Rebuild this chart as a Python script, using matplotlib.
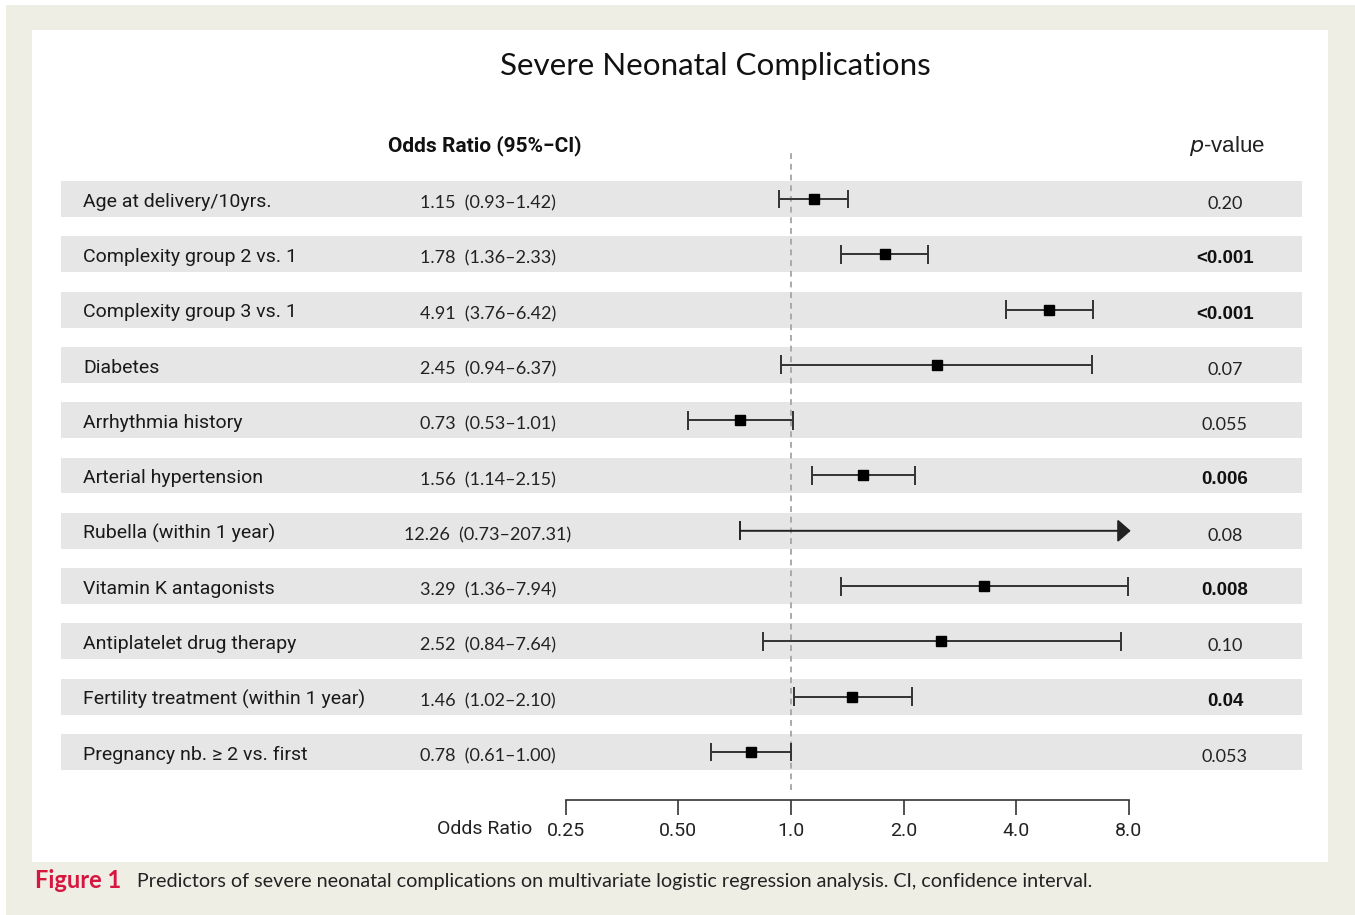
import matplotlib
matplotlib.use("Agg")
import matplotlib.pyplot as plt
from matplotlib import font_manager, transforms
from matplotlib.patches import Rectangle
from matplotlib.ticker import NullLocator, FixedLocator, FixedFormatter

# ---------------- data ----------------
title = "Severe Neonatal Complications"
labels = [
    "Age at delivery/10yrs.",
    "Complexity group 2 vs. 1",
    "Complexity group 3 vs. 1",
    "Diabetes",
    "Arrhythmia history",
    "Arterial hypertension",
    "Rubella (within 1 year)",
    "Vitamin K antagonists",
    "Antiplatelet drug therapy",
    "Fertility treatment (within 1 year)",
    "Pregnancy nb. \u2265 2 vs. first",
]
or_vals = [1.15, 1.78, 4.91, 2.45, 0.73, 1.56, 12.26, 3.29, 2.52, 1.46, 0.78]
ci_low = [0.93, 1.36, 3.76, 0.94, 0.53, 1.14, 0.73, 1.36, 0.84, 1.02, 0.61]
ci_high = [1.42, 2.33, 6.42, 6.37, 1.01, 2.15, 207.31, 7.94, 7.64, 2.10, 1.00]
or_text = ["1.15", "1.78", "4.91", "2.45", "0.73", "1.56", "12.26", "3.29", "2.52", "1.46", "0.78"]
ci_text = ["0.93\u20131.42", "1.36\u20132.33", "3.76\u20136.42", "0.94\u20136.37", "0.53\u20131.01",
           "1.14\u20132.15", "0.73\u2013207.31", "1.36\u20137.94", "0.84\u20137.64", "1.02\u20132.10",
           "0.61\u20131.00"]
p_values = ["0.20", "<0.001", "<0.001", "0.07", "0.055", "0.006", "0.08", "0.008", "0.10", "0.04", "0.053"]
p_bold = [False, True, True, False, False, True, False, True, False, True, False]
tick_vals = [0.25, 0.5, 1.0, 2.0, 4.0, 8.0]
tick_labels = ["0.25", "0.50", "1.0", "2.0", "4.0", "8.0"]
caption_head = "Figure 1"
caption_body = "Predictors of severe neonatal complications on multivariate logistic regression analysis. CI, confidence interval."

# ---------------- fonts ----------------
available = {f.name for f in font_manager.fontManager.ttflist}
def pick(*names):
    for n in names:
        if n in available:
            return n
    return "DejaVu Sans"

F_NARROW = pick("Liberation Sans Narrow", "Roboto", "Liberation Sans")
F_ARIAL = pick("Liberation Sans", "DejaVu Sans")
F_HUMAN = pick("Lato", "Open Sans", "DejaVu Sans")

# ---------------- layout ----------------
W, H = 1355, 915
DPI = 100
fig = plt.figure(figsize=(W / DPI, H / DPI), dpi=DPI, facecolor="white")

def fx(px):
    return px / W

def fy(py):
    return 1 - py / H

# backgrounds
fig.patches.append(Rectangle((fx(6), 0), 1 - fx(6), fy(5), transform=fig.transFigure,
                             facecolor="#efeee5", edgecolor="none", zorder=-20))
fig.patches.append(Rectangle((fx(32), fy(862)), fx(1328) - fx(32), fy(30) - fy(862),
                             transform=fig.transFigure, facecolor="white", edgecolor="none", zorder=-19))

# axes: log2 scale, 1.0 at x=791, 112.6 px per doubling
ax_l, ax_r, ax_t, ax_b = 61, 1302, 153, 800
ax = fig.add_axes([fx(ax_l), fy(ax_b), fx(ax_r) - fx(ax_l), fy(ax_t) - fy(ax_b)])
ax.set_zorder(1)
ax.set_facecolor("none")
ax.set_xscale("log", base=2)
px_per_doubling = 112.6
x_one = 791
ax.set_xlim(2 ** ((ax_l - x_one) / px_per_doubling), 2 ** ((ax_r - x_one) / px_per_doubling))
row0, row_step = 199, 55.3
ax.set_ylim((ax_b - row0) / row_step, (ax_t - row0) / row_step)

for s in ["top", "right", "left"]:
    ax.spines[s].set_visible(False)
ax.spines["bottom"].set_bounds(tick_vals[0], tick_vals[-1])
ax.spines["bottom"].set_linewidth(1.2)
ax.spines["bottom"].set_color("#333333")
ax.xaxis.set_major_locator(FixedLocator(tick_vals))
ax.xaxis.set_major_formatter(FixedFormatter(tick_labels))
ax.xaxis.set_minor_locator(NullLocator())
ax.tick_params(axis="x", direction="out", length=11, width=1.2, color="#333333",
               pad=5, labelsize=14, labelcolor="#222222")
for t in ax.get_xticklabels():
    t.set_fontfamily(F_NARROW)
ax.set_yticks([])

band_half = 0.325
xmax_plot = tick_vals[-1]
for i in range(len(labels)):
    ax.axhspan(i - band_half, i + band_half, color="#e6e6e6", zorder=0, lw=0)

# reference line
ax.axvline(1.0, ymin=0.015, ymax=1.0, color="#aaaaaa", lw=1.4, ls=(0, (3, 2.5)), zorder=1)

cap_half = 0.17
for i, (o, lo, hi) in enumerate(zip(or_vals, ci_low, ci_high)):
    if hi > xmax_plot:
        ax.annotate("", xy=(xmax_plot * 1.012, i), xytext=(lo, i),
                    arrowprops=dict(arrowstyle="-|>,head_length=0.8,head_width=0.7",
                                    color="#222222", lw=1.4, shrinkA=0, shrinkB=0),
                    zorder=3)
        ax.vlines(lo, i - cap_half, i + cap_half, color="#222222", lw=1.4, zorder=3)
    else:
        ax.hlines(i, lo, hi, color="#333333", lw=1.4, zorder=3)
        ax.vlines([lo, hi], i - cap_half, i + cap_half, color="#333333", lw=1.4, zorder=3)
        ax.plot([o], [i], marker="s", ms=7.5, color="black", zorder=4, ls="none")

# text columns
tr = transforms.blended_transform_factory(fig.transFigure, ax.transData)
for i in range(len(labels)):
    ax.text(fx(83), i + 0.05, labels[i], transform=tr, ha="left", va="center",
            fontsize=14, family=F_NARROW, color="#1a1a1a")
    ax.text(fx(488), i + 0.08, f"{or_text[i]}  ({ci_text[i]})", transform=tr, ha="center",
            va="center", fontsize=13, family=F_HUMAN, color="#222222")
    if p_bold[i]:
        ax.text(fx(1225), i + 0.08, p_values[i], transform=tr, ha="center", va="center",
                fontsize=13.5, family=F_ARIAL, fontweight="bold", color="#111111")
    else:
        ax.text(fx(1225), i + 0.09, p_values[i], transform=tr, ha="center", va="center",
                fontsize=13, family=F_HUMAN, color="#222222")

# headers
fig.text(fx(485), fy(146), "Odds Ratio (95%\u2212CI)", ha="center", va="center",
         fontsize=15, fontweight="bold", family=F_NARROW, color="#111111")
fig.text(fx(1227), fy(146), "$\\it{p}$-value", ha="center", va="center",
         fontsize=16, family=F_ARIAL, color="#222222")
fig.text(fx(485), fy(829), "Odds Ratio", ha="center", va="center",
         fontsize=14, family=F_NARROW, color="#222222")

# title
fig.text(fx(715), fy(66), title, ha="center", va="center", fontsize=22.6,
         family=F_HUMAN, color="#111111")

# caption
fig.text(fx(35), fy(881), caption_head, ha="left", va="center", fontsize=17,
         fontweight="bold", family=F_HUMAN, color="#d6163f")
fig.text(fx(137), fy(881), caption_body, ha="left", va="center", fontsize=14.2,
         family=F_HUMAN, color="#222222")

fig.savefig("out.png", dpi=DPI, facecolor=fig.get_facecolor())
